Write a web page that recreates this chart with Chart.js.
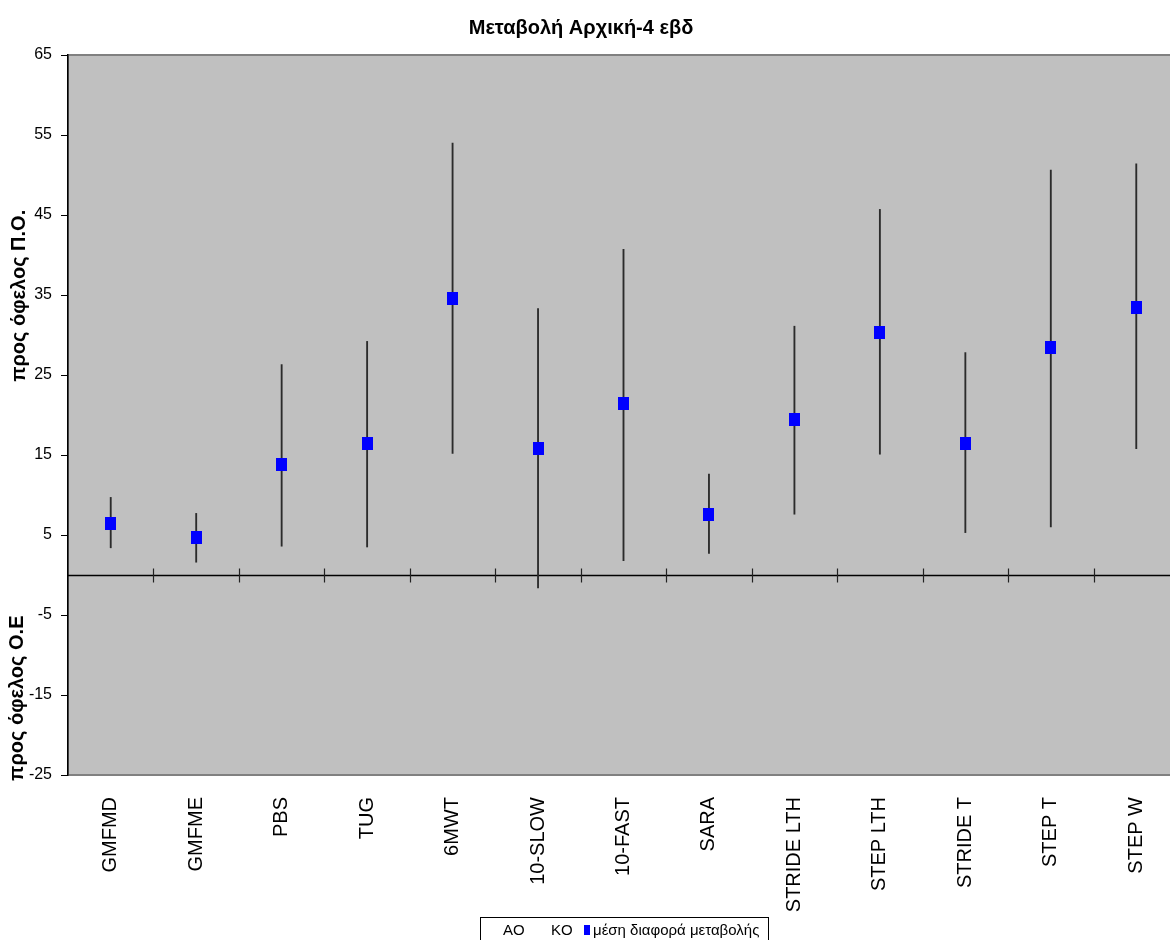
<!DOCTYPE html>
<html lang="el">
<head>
    <meta charset="UTF-8">
    <title>Μεταβολή Αρχική-4 εβδ</title>
    <script src="https://cdn.jsdelivr.net/npm/chart.js"></script>
    <style>
        html, body {
            margin: 0;
            padding: 0;
            background: #fff;
            overflow: hidden;
            width: 1170px;
            height: 940px;
        }
        #wrap {
            position: relative;
            width: 1187px;
            height: 940px;
        }
        #legend {
            position: absolute;
            left: 480px;
            top: 917px;
            width: 289px;
            height: 30px;
            border: 1px solid #000;
            box-sizing: border-box;
            font-family: "Liberation Sans", Arial, sans-serif;
            font-size: 15px;
            color: #000;
            white-space: nowrap;
        }
        #legend span { position: absolute; top: 3px; }
        #legend .mark {
            display: inline-block;
            width: 6px;
            height: 10px;
            background: #0000ff;
            top: 7px;
        }
    </style>
</head>
<body>
<div id="wrap">
    <canvas id="myChart" width="1187" height="940"></canvas>
    <div id="legend">
        <span style="left:22px">AO</span>
        <span style="left:70px">KO</span>
        <span class="mark" style="left:103px"></span>
        <span style="left:112px">μέση διαφορά μεταβολής</span>
    </div>
</div>

<script>
    // values
    const categories = ['GMFMD', 'GMFME', 'PBS', 'TUG', '6MWT', '10-SLOW', '10-FAST',
        'SARA', 'STRIDE LTH', 'STEP LTH', 'STRIDE T', 'STEP T', 'STEP W'];
    const meanDiff = [6.5, 4.7, 13.8, 16.4, 34.6, 15.8, 21.4, 7.6, 19.4, 30.3, 16.5, 28.4, 33.5];
    const upper = [9.7, 7.7, 26.3, 29.2, 54.0, 33.3, 40.7, 12.6, 31.1, 45.7, 27.8, 50.6, 51.4];
    const lower = [3.4, 1.6, 3.6, 3.5, 15.2, -1.6, 1.8, 2.7, 7.6, 15.1, 5.3, 6.0, 15.8];
    const yTicks = [-25, -15, -5, 5, 15, 25, 35, 45, 55, 65];
    const chartTitle = 'Μεταβολή Αρχική-4 εβδ';

    const FONT = '"Liberation Sans", Arial, sans-serif';

    // blue square marker, a bit taller than wide like in excel
    const marker = document.createElement('canvas');
    marker.width = 11;
    marker.height = 13;
    const mctx = marker.getContext('2d');
    mctx.fillStyle = '#0000ff';
    mctx.fillRect(0, 0, 11, 13);

    const ranges = categories.map((c, i) => [lower[i], upper[i]]);

    // gray plot background + border
    const plotBg = {
        id: 'plotBg',
        beforeDraw(chart) {
            const { ctx, chartArea: a } = chart;
            ctx.save();
            ctx.fillStyle = '#c0c0c0';
            ctx.fillRect(a.left, a.top, a.right - a.left, a.bottom - a.top);
            ctx.strokeStyle = '#808080';
            ctx.lineWidth = 2;
            ctx.strokeRect(a.left, a.top, a.right - a.left, a.bottom - a.top);
            ctx.restore();
        }
    };

    // category axis crossing at zero, with small ticks between categories
    const zeroAxis = {
        id: 'zeroAxis',
        beforeDatasetsDraw(chart) {
            const { ctx, chartArea: a, scales } = chart;
            const y0 = Math.round(scales.y.getPixelForValue(0)) + 0.5;
            ctx.save();
            ctx.strokeStyle = '#000';
            ctx.lineWidth = 1.5;
            ctx.beginPath();
            ctx.moveTo(a.left, y0);
            ctx.lineTo(a.right, y0);
            ctx.stroke();
            ctx.lineWidth = 1.2;
            ctx.strokeStyle = '#222';
            for (let i = 1; i < categories.length; i++) {
                const x = Math.round((scales.x.getPixelForValue(i - 1) + scales.x.getPixelForValue(i)) / 2) + 0.5;
                ctx.beginPath();
                ctx.moveTo(x, y0 - 7);
                ctx.lineTo(x, y0 + 7);
                ctx.stroke();
            }
            ctx.restore();
        }
    };

    // title (excel centres it a bit left of the canvas middle) and the
    // two rotated axis titles, one per side of zero
    const texts = {
        id: 'texts',
        afterDraw(chart) {
            const { ctx, scales } = chart;
            ctx.save();
            ctx.fillStyle = '#000';
            ctx.textAlign = 'center';
            ctx.textBaseline = 'middle';
            ctx.font = 'bold 20px ' + FONT;
            ctx.fillText(chartTitle, 581, 28);

            const items = [
                { text: 'προς όφελος Π.Ο.', v: 34.9, x: 19 },
                { text: 'προς όφελος Ο.Ε', v: -15.4, x: 17 }
            ];
            items.forEach(it => {
                ctx.save();
                ctx.translate(it.x, scales.y.getPixelForValue(it.v));
                ctx.rotate(-Math.PI / 2);
                ctx.fillText(it.text, 0, 0);
                ctx.restore();
            });
            ctx.restore();
        }
    };

    const ctx = document.getElementById('myChart').getContext('2d');

    const myChart = new Chart(ctx, {
        type: 'bar',
        data: {
            labels: categories,
            datasets: [{
                type: 'line',
                label: 'μέση διαφορά μεταβολής',
                data: meanDiff,
                showLine: false,
                pointStyle: marker,
                pointRadius: 7,
                pointHoverRadius: 7,
                backgroundColor: '#0000ff',
                borderColor: '#0000ff'
            }, {
                label: 'AO-KO',
                data: ranges,
                backgroundColor: '#2b2b2b',
                borderWidth: 0,
                barThickness: 1.2,
                grouped: false
            }]
        },
        options: {
            responsive: false,
            animation: false,
            events: [],
            layout: { padding: { top: 55, left: 0, right: 2, bottom: 0 } },
            plugins: {
                legend: { display: false },
                tooltip: { enabled: false },
                title: { display: false }
            },
            scales: {
                x: {
                    offset: true,
                    grid: { display: false },
                    border: { display: true, color: '#808080', width: 2 },
                    ticks: {
                        color: '#000',
                        font: { family: FONT, size: 20 },
                        minRotation: 90,
                        maxRotation: 90,
                        padding: 14,
                        autoSkip: false
                    },
                    afterFit(scale) { scale.height = 165; }
                },
                y: {
                    min: -25,
                    max: 65,
                    afterBuildTicks(scale) {
                        scale.ticks = yTicks.map(v => ({ value: v }));
                    },
                    grid: {
                        drawOnChartArea: false,
                        tickLength: 7,
                        color: '#000'
                    },
                    border: { display: true, color: '#000', width: 1.5 },
                    ticks: {
                        color: '#000',
                        font: { family: FONT, size: 16 },
                        padding: 9
                    },
                    afterFit(scale) { scale.width = 68; }
                }
            }
        },
        plugins: [plotBg, zeroAxis, texts]
    });
</script>
</body>
</html>
